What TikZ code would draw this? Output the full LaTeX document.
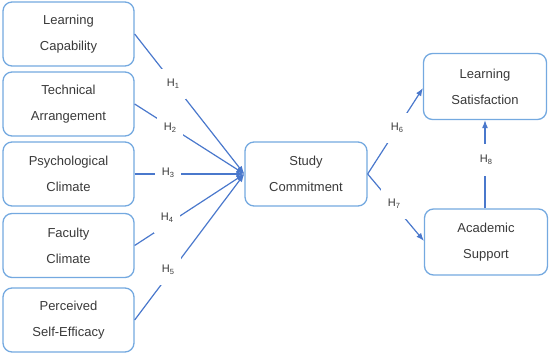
\documentclass[tikz,border=0pt]{standalone}
\usepackage{fontspec}
\setmainfont{Liberation Sans}
\usetikzlibrary{arrows.meta}
\definecolor{boxblue}{HTML}{74A9E0}
\definecolor{lineblue}{HTML}{4A78CC}
\definecolor{txt}{HTML}{3A3A3A}
\newcommand{\hyp}[1]{H\raisebox{-2pt}{\fontsize{7.5}{7.5}\selectfont #1}}
\tikzset{
  box/.style={draw=boxblue, line width=1.3pt, rounded corners=9pt, fill=white,
    text=txt, align=center, font=\fontsize{13}{26}\selectfont, inner sep=0pt},
  lbox/.style={box, minimum width=131pt, minimum height=64pt},
  rbox/.style={box, minimum width=123pt, minimum height=66pt},
  conn/.style={draw=lineblue, line width=1.2pt},
  arr/.style={conn, -{Latex[length=8pt,width=6pt]}},
  hlab/.style={fill=white, text=txt, font=\fontsize{11}{11}\selectfont, minimum width=26pt, minimum height=30pt, inner sep=0pt},
}
\begin{document}
\begin{tikzpicture}[x=1pt,y=-1pt]
\useasboundingbox (0,0) rectangle (550,355);
\node[lbox] (lc) at (68.5,34) {Learning\\Capability};
\node[lbox] (ta) at (68.5,104) {Technical\\Arrangement};
\node[lbox] (pc) at (68.5,174) {Psychological\\Climate};
\node[lbox] (fc) at (68.5,245.5) {Faculty\\Climate};
\node[lbox] (se) at (68.5,320) {Perceived\\Self-Efficacy};
\node[box, minimum width=122pt, minimum height=64pt] (sc) at (306,174) {Study\\Commitment};
\node[rbox] (ls) at (485,86.5) {Learning\\Satisfaction};
\node[rbox] (as) at (486,242) {Academic\\Support};

\draw[arr] (lc.east) -- (sc.west);
\draw[arr] (ta.east) -- (sc.west);
\draw[arr] (pc.east) -- (sc.west);
\draw[arr] (fc.east) -- (sc.west);
\draw[arr] (se.east) -- (sc.west);
\coordinate (lsin) at (423,88);
\coordinate (asin) at (424,241);
\draw[arr] (sc.east) -- (lsin);
\draw[arr] (sc.east) -- (asin);
\draw[arr] (as.north -| ls.south) -- (ls.south);

\node[hlab] (h1) at (173,84) {\hyp{1}};
\node[hlab] (h2) at (170,128) {\hyp{2}};
\node[hlab] (h3) at (168,173) {\hyp{3}};
\node[hlab] (h4) at (167,218) {\hyp{4}};
\node[hlab] (h5) at (168,270) {\hyp{5}};
\node[hlab] (h6) at (397,128) {\hyp{6}};
\node[hlab] (h7) at (394,204) {\hyp{7}};
\node[hlab, minimum height=32pt] (h8) at (486,160) {\hyp{8}};
\end{tikzpicture}
\end{document}
